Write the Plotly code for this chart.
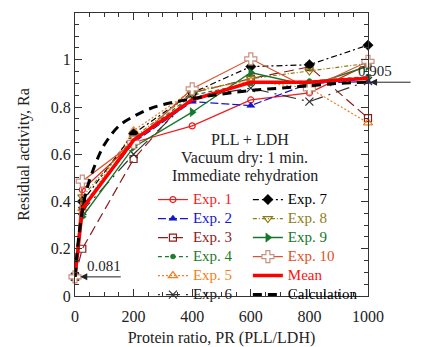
import plotly.graph_objects as go

# Protein ratio (x) values
pr = [0, 25, 200, 400, 600, 800, 1000]

exp1 = [0.081, 0.45, 0.65, 0.72, 0.83, 0.86, 0.98]
exp2 = [0.081, 0.37, 0.65, 0.823, 0.806, 0.90, 0.908]
exp3 = [0.081, 0.20, 0.58, 0.86, 0.92, 0.97, 0.753]
exp4 = [0.081, 0.38, 0.66, 0.85, 0.90, 0.91, 0.929]
exp5 = [0.081, 0.37, 0.70, 0.87, 0.91, 0.88, 0.733]
exp6 = [0.081, 0.36, 0.60, 0.84, 0.88, 0.823, 0.91]
exp7 = [0.081, 0.40, 0.687, 0.86, 0.971, 0.979, 1.062]
exp8 = [0.081, 0.42, 0.67, 0.86, 0.92, 0.952, 0.985]
exp9 = [0.081, 0.335, 0.63, 0.778, 0.946, 0.89, 0.973]
exp10 = [0.081, 0.486, 0.65, 0.877, 1.004, 0.877, 0.993]
mean = [0.081, 0.37, 0.66, 0.83, 0.905, 0.905, 0.922]

calc_x = [0, 10, 25, 40, 70, 100, 150, 200, 250, 300, 400, 500, 600, 700, 800, 900, 1000]
calc_y = [0.081, 0.22, 0.36, 0.45, 0.56, 0.64, 0.72, 0.76, 0.79, 0.81, 0.835, 0.855, 0.87, 0.88, 0.89, 0.9, 0.905]

FONT = "Liberation Serif"
LEG_FS = 11
TXT_FS = 15

def lname(text, color):
    return f'<span style="font-size:{TXT_FS}px;color:{color}">{text}</span>'

series = [
    ("Exp. 1", exp1, "#EE1C1C", "#EE1C1C", "solid", 1.2, "circle-open", 6, None, "legend"),
    ("Exp. 2", exp2, "#1515D0", "#1515D0", "8px,3px", 1.2, "triangle-up", 7, None, "legend"),
    ("Exp. 3", exp3, "#8B1C1C", "#8B1C1C", "10px,5px", 1.2, "square-open", 7, None, "legend"),
    ("Exp. 4", exp4, "#1E7B2A", "#1E7B2A", "4px,3px", 1.2, "circle", 5, None, "legend"),
    ("Exp. 5", exp5, "#F07F20", "#F07F20", "2px,2px", 1.2, "triangle-up-open", 8, None, "legend"),
    ("Exp. 6", exp6, "#333333", "#222222", "2px,6px,14px,6px", 1.2, "x-thin-open", 8, None, "legend"),
    ("Exp. 7", exp7, "#000000", "#000000", "6px,3px,2px,3px", 1.2, "diamond", 8, None, "legend2"),
    ("Exp. 8", exp8, "#8C7E16", "#8C7E16", "4px,2px,1px,2px", 1.2, "triangle-down-open", 8, None, "legend2"),
    ("Exp. 9", exp9, "#16762A", "#16762A", "solid", 1.4, "triangle-right", 8, None, "legend2"),
    ("Exp. 10", exp10, "#D9542B", "#E0501E", "solid", 1.2, "cross", 10, "#C89080", "legend2"),
]

fig = go.Figure()
rank = 1
for name, ys, lc, tc, dash, lw, sym, ms, mline, leg in series:
    if sym == "cross":
        marker = dict(symbol="cross", size=ms, color="white",
                      line=dict(color=mline or lc, width=1.2))
    elif sym.endswith("-open"):
        marker = dict(symbol=sym, size=ms, color=lc, line=dict(color=lc, width=1.2))
    else:
        marker = dict(symbol=sym, size=ms, color=lc, line=dict(color=lc, width=0.5))
    fig.add_trace(go.Scatter(
        x=pr, y=ys, mode="lines+markers", name=lname(name, tc),
        line=dict(color=lc, width=lw, dash=dash), marker=marker,
        cliponaxis=False, legend=leg, legendrank=rank))
    rank += 1

fig.add_trace(go.Scatter(
    x=pr, y=mean, mode="lines", name=lname("Mean", "#FF1010"),
    line=dict(color="#FF0000", width=3.5), cliponaxis=False,
    legend="legend2", legendrank=rank))
rank += 1
fig.add_trace(go.Scatter(
    x=calc_x, y=calc_y, mode="lines", name=lname("Calculation", "#000000"),
    line=dict(color="#000000", width=3, dash="9px,6px", shape="spline"),
    cliponaxis=False, legend="legend2", legendrank=rank))

axis_common = dict(
    showline=True, linecolor="#333", linewidth=1, mirror="allticks",
    ticks="inside", ticklen=7, tickcolor="#333", showgrid=False, zeroline=False,
    tickfont=dict(family=FONT, size=16, color="#222"),
)

fig.update_xaxes(range=[0, 1000], dtick=200, tick0=0, ticklabelstandoff=6,
                 minor=dict(ticks="inside", ticklen=4, dtick=50, tickcolor="#333"),
                 title=dict(text="Protein ratio, PR (PLL/LDH)", standoff=7,
                            font=dict(family=FONT, size=16, color="#222")),
                 **axis_common)
fig.update_yaxes(range=[0, 1.198], dtick=0.2, tick0=0,
                 minor=dict(ticks="inside", ticklen=4, dtick=0.05, tickcolor="#333"),
                 title=dict(text="Residual activity, Ra", standoff=17,
                            font=dict(family=FONT, size=16, color="#222")),
                 **axis_common)

leg_common = dict(font=dict(family=FONT, size=LEG_FS), bgcolor="rgba(0,0,0,0)",
                  yanchor="top", xanchor="left", itemwidth=30, traceorder="normal")
fig.update_layout(
    width=413, height=339,
    margin=dict(l=67, r=53, t=4, b=44),
    paper_bgcolor="white", plot_bgcolor="white",
    font=dict(family=FONT, color="#222"),
    legend=dict(x=0.266, y=0.392, **leg_common),
    legend2=dict(x=0.59, y=0.392, **leg_common),
    showlegend=True,
)

for txt, xp, yp in [("PLL + LDH", 0.597, 0.553),
                    ("Vacuum dry: 1 min.", 0.58, 0.488),
                    ("Immediate rehydration", 0.58, 0.423)]:
    fig.add_annotation(x=xp, y=yp, xref="paper", yref="paper", text=txt,
                       showarrow=False, font=dict(family=FONT, size=16, color="#222"))

# value callouts with arrows
fig.add_annotation(x=18, y=0.081, xref="x", yref="y", ax=42, ay=0, text="",
                   showarrow=True, arrowhead=2, arrowsize=1.4, arrowwidth=1, arrowcolor="#222")
fig.add_annotation(x=18, y=0.081, xref="x", yref="y", xshift=24, yshift=11, text="0.081",
                   showarrow=False, font=dict(family=FONT, size=15, color="#222"))
fig.add_annotation(x=1.007, y=0.905, xref="paper", yref="y", ax=42, ay=0, text="",
                   showarrow=True, arrowhead=2, arrowsize=1.4, arrowwidth=1, arrowcolor="#222")
fig.add_annotation(x=1.007, y=0.905, xref="paper", yref="y", xshift=24, yshift=11, text="0.905",
                   showarrow=False, font=dict(family=FONT, size=15, color="#222"))

fig.write_html("out.html")
